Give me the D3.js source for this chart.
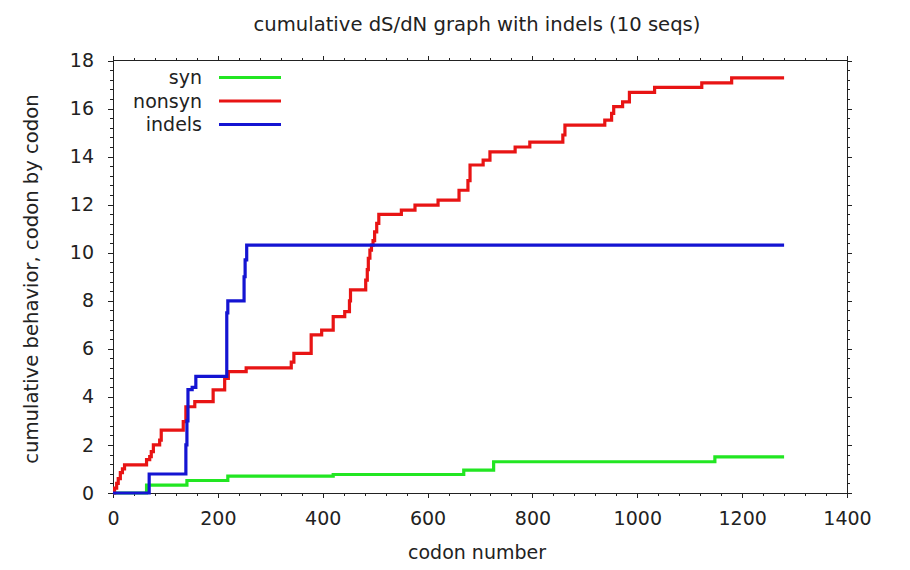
<!DOCTYPE html>
<meta charset="utf-8">
<html>
<head>
<script src="https://d3js.org/d3.v7.min.js" charset="utf-8"></script>
<style type="text/css">
    body { margin: 0; background: #fff; }
    text { font-family: "DejaVu Sans", sans-serif; font-size: 19px; fill: #222; }
    .frame { fill: none; stroke: #222; stroke-width: 1; shape-rendering: crispEdges; }
    .tick line { stroke: #222; shape-rendering: crispEdges; }
    .series { fill: none; stroke-width: 3.2; }
</style>
</head>
<body>
<div id="chart"></div>

<script type="text/javascript">
// step points: value holds from codon x onwards
var synCodon    = [0, 64, 141, 219, 420, 669, 726, 1148, 1280];
var synValue    = [0, 0.33, 0.52, 0.7, 0.77, 0.95, 1.3, 1.5, 1.5];

var nonsynCodon = [0, 3, 7, 10, 14, 18, 22, 64, 70, 73, 77, 89, 92, 134, 139, 156, 191, 213, 220, 254,
                   340, 345, 378, 398, 420, 442, 451, 453, 482, 485, 487, 490, 493, 496, 499, 503, 507,
                   550, 576, 620, 660, 677, 681, 706, 719, 767, 795, 858, 862, 938, 951, 955, 972, 985,
                   1033, 1123, 1180, 1280];
var nonsynValue = [0, 0.2, 0.4, 0.6, 0.85, 1.0, 1.17, 1.39, 1.51, 1.72, 2.0, 2.2, 2.62, 2.97, 3.59, 3.8, 4.29, 4.77, 5.05, 5.21,
                   5.45, 5.81, 6.58, 6.78, 7.34, 7.55, 8.0, 8.45, 8.86, 9.3, 9.77, 10.11, 10.32, 10.5, 10.87, 11.22, 11.6,
                   11.77, 11.98, 12.19, 12.6, 13.0, 13.65, 13.85, 14.2, 14.4, 14.6, 14.9, 15.31, 15.52, 15.8, 16.08, 16.28, 16.67,
                   16.88, 17.07, 17.28, 17.28];

var indelCodon  = [0, 69, 137, 139, 141, 143, 151, 158, 215, 217, 219, 248, 250, 252, 255, 1280];
var indelValue  = [0, 0.79, 0.79, 2.0, 3.0, 4.3, 4.4, 4.85, 4.85, 7.5, 8.0, 8.0, 9.0, 9.7, 10.32, 10.32];

var seriesNames  = ["syn", "nonsyn", "indels"];
var seriesColors = ["#22e622", "#e81414", "#1414d2"];

var xTicks = [0, 200, 400, 600, 800, 1000, 1200, 1400];
var yTicks = [0, 2, 4, 6, 8, 10, 12, 14, 16, 18];

var chartTitle = "cumulative dS/dN graph with indels (10 seqs)";
var xTitle = "codon number";
var yTitle = "cumulative behavior, codon by codon";

// Setup
var canvas_width = 910;
var canvas_height = 570;
var margin = {left: 113, right: 63, top: 60.5, bottom: 77};
var plotW = canvas_width - margin.left - margin.right;
var plotH = canvas_height - margin.top - margin.bottom;

var xScale = d3.scaleLinear().domain([0, 1400]).range([margin.left, margin.left + plotW]);
var yScale = d3.scaleLinear().domain([0, 18]).range([margin.top + plotH, margin.top]);

var svg = d3.select("#chart").append("svg")
    .attr("width", canvas_width)
    .attr("height", canvas_height);

// minor ticks (every 40 codons, every 0.4 units) on all four sides
var xMinor = d3.range(0, 1400.1, 40);
var yMinor = d3.range(0, 18.01, 0.4);

function addAxis(axis, tx, ty) {
    svg.append("g").attr("transform", "translate(" + tx + "," + ty + ")").call(axis)
        .call(function(g) { g.select(".domain").remove(); });
}

var bottom = margin.top + plotH, right = margin.left + plotW;
addAxis(d3.axisBottom(xScale).tickValues(xMinor).tickSize(3).tickFormat(""), 0, bottom);
addAxis(d3.axisTop(xScale).tickValues(xMinor).tickSize(3).tickFormat(""), 0, margin.top);
addAxis(d3.axisLeft(yScale).tickValues(yMinor).tickSize(3).tickFormat(""), margin.left, 0);
addAxis(d3.axisRight(yScale).tickValues(yMinor).tickSize(3).tickFormat(""), right, 0);

// major ticks
var xAxis = d3.axisBottom(xScale).tickValues(xTicks).tickSize(5).tickPadding(14).tickFormat(d3.format("d"));
var yAxis = d3.axisLeft(yScale).tickValues(yTicks).tickSize(5).tickPadding(14).tickFormat(d3.format("d"));
addAxis(xAxis, 0, bottom);
addAxis(yAxis, margin.left, 0);
addAxis(d3.axisTop(xScale).tickValues(xTicks).tickSize(5).tickFormat(""), 0, margin.top);
addAxis(d3.axisRight(yScale).tickValues(yTicks).tickSize(5).tickFormat(""), right, 0);

svg.selectAll(".tick text").style("font-size", "19px").attr("fill", "#222");
svg.selectAll(".tick line").attr("stroke", "#222");

// frame
svg.append("rect").attr("class", "frame")
    .attr("x", margin.left).attr("y", margin.top)
    .attr("width", plotW).attr("height", plotH);

// series lines
var line = d3.line()
    .x(function(d) { return xScale(d[0]); })
    .y(function(d) { return yScale(d[1]); })
    .curve(d3.curveStepAfter);

var seriesData = [
    d3.zip(synCodon, synValue),
    d3.zip(nonsynCodon, nonsynValue),
    d3.zip(indelCodon, indelValue)
];

seriesData.forEach(function(pts, i) {
    svg.append("path").attr("class", "series")
        .attr("d", line(pts))
        .attr("stroke", seriesColors[i]);
});

// legend
var legend = svg.append("g");
seriesNames.forEach(function(name, i) {
    var ly = 77.5 + i * 23.5;
    legend.append("text")
        .attr("x", 202).attr("y", ly).attr("dy", "0.35em")
        .attr("text-anchor", "end")
        .text(name);
    legend.append("line")
        .attr("x1", 219).attr("x2", 281)
        .attr("y1", ly).attr("y2", ly)
        .attr("stroke", seriesColors[i]).attr("stroke-width", 3.2);
});

// titles
svg.append("text").attr("text-anchor", "middle")
    .style("font-size", "19.6px")
    .attr("x", 477).attr("y", 31).text(chartTitle);
svg.append("text").attr("text-anchor", "middle")
    .attr("x", 477).attr("y", 559).text(xTitle);
svg.append("text").attr("text-anchor", "middle")
    .style("font-size", "19.6px")
    .attr("transform", "translate(38," + 279 + ")rotate(-90)")
    .text(yTitle);
</script>
</body>
</html>
